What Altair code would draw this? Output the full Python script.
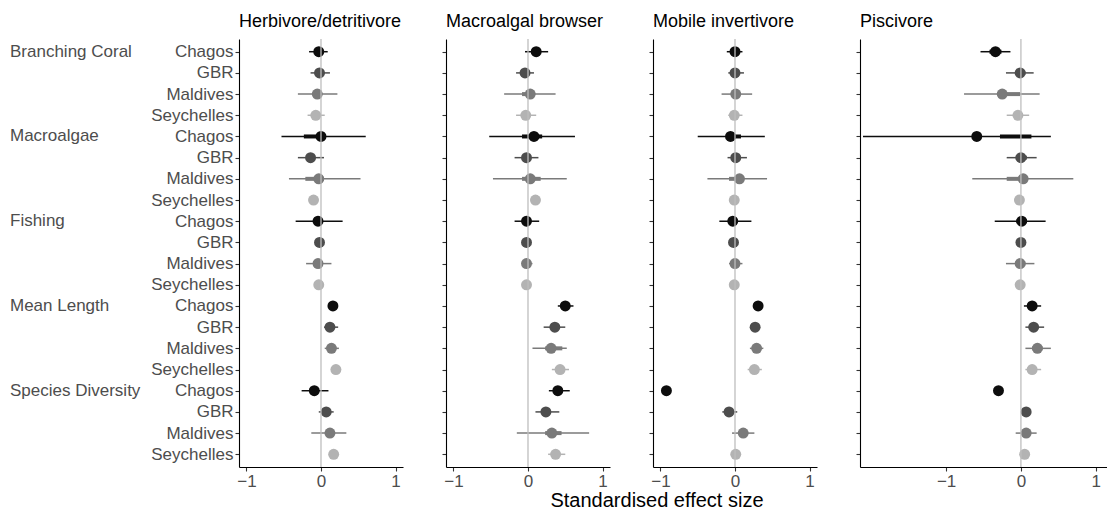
import altair as alt
import pandas as pd

FONT = "Liberation Sans"

guilds = ["Herbivore/detritivore", "Macroalgal browser", "Mobile invertivore", "Piscivore"]
groups = ["Branching Coral", "Macroalgae", "Fishing", "Mean Length", "Species Diversity"]
regions = ["Chagos", "GBR", "Maldives", "Seychelles"]
region_colors = ["#0D0D0D", "#4D4D4D", "#7A7A7A", "#B3B3B3"]
# groups whose first tick label is printed with a trailing space
spaced_groups = ["Macroalgae", "Fishing", "Mean Length"]

x_ticks = [-1, 0, 1]
ref_lines = [0]
axis_title_text = "Standardised effect size"

# Rows run group by group, regions in order Chagos, GBR, Maldives, Seychelles
herb_est = [-0.03, -0.02, -0.05, -0.07, 0.00, -0.14, -0.03, -0.10, -0.04, -0.02,
            -0.04, -0.03, 0.16, 0.12, 0.14, 0.20, -0.09, 0.07, 0.12, 0.17]
herb_lo95 = [-0.16, -0.14, -0.31, -0.18, -0.53, -0.31, -0.43, -0.13, -0.34, -0.05,
             -0.20, -0.06, 0.13, 0.04, 0.05, 0.17, -0.26, -0.03, -0.13, 0.14]
herb_hi95 = [0.09, 0.12, 0.22, 0.05, 0.60, 0.04, 0.53, -0.07, 0.29, 0.01,
             0.14, 0.00, 0.19, 0.23, 0.24, 0.23, 0.10, 0.17, 0.34, 0.20]
herb_lo_in = [-0.07, -0.06, -0.10, -0.10, -0.23, -0.19, -0.21, -0.12, -0.09, -0.04,
              -0.09, -0.05, 0.15, 0.08, 0.10, 0.19, -0.14, 0.03, 0.06, 0.16]
herb_hi_in = [0.01, 0.03, 0.01, -0.04, 0.04, -0.09, 0.04, -0.08, 0.02, 0.00,
              0.01, -0.01, 0.17, 0.16, 0.18, 0.21, -0.04, 0.11, 0.17, 0.19]

brow_est = [0.11, -0.04, 0.03, -0.03, 0.08, -0.02, 0.03, 0.10, -0.02, -0.02,
            -0.02, -0.02, 0.50, 0.36, 0.31, 0.43, 0.40, 0.24, 0.32, 0.37]
brow_lo95 = [-0.04, -0.16, -0.32, -0.16, -0.52, -0.18, -0.47, 0.08, -0.18, -0.04,
             -0.08, -0.04, 0.40, 0.21, 0.06, 0.32, 0.28, 0.10, -0.15, 0.27]
brow_hi95 = [0.27, 0.08, 0.37, 0.11, 0.63, 0.14, 0.52, 0.12, 0.15, 0.00,
             0.06, 0.00, 0.61, 0.50, 0.52, 0.55, 0.56, 0.42, 0.82, 0.50]
brow_lo_in = [0.05, -0.09, -0.08, -0.08, -0.08, -0.07, -0.08, 0.09, -0.07, -0.03,
              -0.05, -0.03, 0.45, 0.30, 0.23, 0.38, 0.34, 0.18, 0.23, 0.32]
brow_hi_in = [0.17, 0.01, 0.09, 0.02, 0.19, 0.03, 0.17, 0.11, 0.03, -0.01,
              0.01, -0.01, 0.55, 0.42, 0.46, 0.48, 0.46, 0.30, 0.45, 0.42]

inv_est = [0.00, 0.00, 0.01, -0.01, -0.06, 0.01, 0.06, -0.01, -0.03, -0.02,
           0.00, -0.01, 0.31, 0.27, 0.29, 0.26, -0.92, -0.08, 0.11, 0.01]
inv_lo95 = [-0.11, -0.09, -0.18, -0.09, -0.50, -0.10, -0.37, -0.03, -0.21, -0.04,
            -0.08, -0.03, 0.29, 0.25, 0.20, 0.17, -0.94, -0.17, -0.04, -0.03]
inv_hi95 = [0.10, 0.12, 0.23, 0.10, 0.40, 0.16, 0.43, 0.01, 0.22, 0.00,
            0.10, 0.01, 0.33, 0.29, 0.38, 0.36, -0.90, 0.03, 0.26, 0.05]
inv_lo_in = [-0.04, -0.04, -0.05, -0.04, -0.08, -0.04, -0.08, -0.02, -0.08, -0.03,
             -0.04, -0.02, 0.30, 0.26, 0.25, 0.22, -0.93, -0.12, 0.06, -0.01]
inv_hi_in = [0.04, 0.05, 0.07, 0.03, 0.08, 0.06, 0.05, 0.00, 0.03, -0.01,
             0.04, 0.00, 0.32, 0.28, 0.33, 0.31, -0.91, -0.04, 0.16, 0.03]

pisc_est = [-0.34, -0.01, -0.25, -0.04, -0.59, 0.00, 0.03, -0.02, 0.01, 0.00,
            -0.01, -0.01, 0.15, 0.17, 0.22, 0.15, -0.30, 0.07, 0.07, 0.05]
pisc_lo95 = [-0.54, -0.20, -0.76, -0.19, -2.11, -0.19, -0.65, -0.04, -0.35, -0.02,
             -0.20, -0.03, 0.04, 0.06, 0.06, 0.06, -0.32, 0.05, -0.07, 0.03]
pisc_hi95 = [-0.14, 0.17, 0.25, 0.11, 0.40, 0.21, 0.70, 0.00, 0.33, 0.02,
             0.18, 0.01, 0.27, 0.31, 0.40, 0.27, -0.28, 0.09, 0.21, 0.07]
pisc_lo_in = [-0.42, -0.08, -0.31, -0.09, -0.28, -0.07, -0.19, -0.03, -0.06, -0.01,
              -0.08, -0.02, 0.10, 0.12, 0.15, 0.11, -0.31, 0.06, 0.01, 0.04]
pisc_hi_in = [-0.26, 0.06, -0.01, 0.02, 0.14, 0.08, 0.09, -0.01, 0.08, 0.01,
              0.06, 0.00, 0.20, 0.23, 0.29, 0.20, -0.29, 0.08, 0.13, 0.06]

series = {
    "Herbivore/detritivore": (herb_est, herb_lo95, herb_hi95, herb_lo_in, herb_hi_in),
    "Macroalgal browser": (brow_est, brow_lo95, brow_hi95, brow_lo_in, brow_hi_in),
    "Mobile invertivore": (inv_est, inv_lo95, inv_hi95, inv_lo_in, inv_hi_in),
    "Piscivore": (pisc_est, pisc_lo95, pisc_hi95, pisc_lo_in, pisc_hi_in),
}
x_domains = {
    "Herbivore/detritivore": [-1.1, 1.1],
    "Macroalgal browser": [-1.1, 1.1],
    "Mobile invertivore": [-1.1, 1.1],
    "Piscivore": [-2.15, 1.15],
}
panel_widths = [164, 164, 164, 247]
PANEL_H = 428


def tick_label(group, region):
    if region == "Chagos" and group in spaced_groups:
        return region + "\u00a0"
    return region


key_order = [f"{g}|{tick_label(g, r)}" for g in groups for r in regions]

records = []
for guild in guilds:
    est, lo95, hi95, lo_in, hi_in = series[guild]
    for i in range(len(key_order)):
        grp = groups[i // 4]
        reg = regions[i % 4]
        records.append({
            "guild": guild, "group": grp, "region": reg, "key": key_order[i],
            "est": est[i], "lo95": lo95[i], "hi95": hi95[i],
            "lo_in": lo_in[i], "hi_in": hi_in[i],
        })
df = pd.DataFrame(records)


def panel(guild, width, first=False, with_axis_title=False):
    d = df[df["guild"] == guild]
    xs = alt.Scale(domain=x_domains[guild], nice=False, zero=False)
    x_axis = alt.Axis(values=x_ticks, title=None, grid=False)
    y_axis = alt.Axis(title=None, labels=first, grid=False,
                      labelExpr="split(datum.value, '|')[1]")
    y = alt.Y("key:N", scale=alt.Scale(type="point", domain=key_order, padding=0.6),
              axis=y_axis)
    col = alt.Color("region:N", scale=alt.Scale(domain=regions, range=region_colors),
                    legend=None)
    base = alt.Chart(d)

    thin = base.mark_rule(strokeWidth=1.5).encode(
        x=alt.X("lo95:Q", scale=xs, axis=x_axis), x2="hi95:Q", y=y, color=col)
    thick = base.mark_rule(strokeWidth=4).encode(
        x=alt.X("lo_in:Q", scale=xs, axis=x_axis), x2="hi_in:Q", y=y, color=col)
    dots = base.mark_circle(size=120, opacity=1).encode(
        x=alt.X("est:Q", scale=xs, axis=x_axis), y=y, color=col)
    zero = alt.Chart(pd.DataFrame({"ref": ref_lines})).mark_rule(
        color="#BEBEBE", strokeWidth=1.3).encode(
        x=alt.X("ref:Q", scale=xs, axis=x_axis))
    layers = [thin, thick, dots, zero]

    if first:
        group_text = base.transform_filter(alt.datum.region == "Chagos").mark_text(
            align="left", baseline="middle", fontSize=17, color="#4D4D4D", font=FONT
        ).encode(x=alt.value(-229), y=y, text="group:N")
        layers.append(group_text)

    if with_axis_title:
        xt = alt.Chart(pd.DataFrame({"label": [axis_title_text]})).mark_text(
            align="center", baseline="alphabetic", fontSize=20, color="#000000", font=FONT
        ).encode(x=alt.value(4), y=alt.value(PANEL_H + 40), text="label:N")
        layers.append(xt)

    return alt.layer(*layers).properties(
        width=width, height=PANEL_H,
        title=alt.TitleParams(guild, anchor="start", frame="group"),
    )


panels = [
    panel(guilds[0], panel_widths[0], first=True),
    panel(guilds[1], panel_widths[1]),
    panel(guilds[2], panel_widths[2], with_axis_title=True),
    panel(guilds[3], panel_widths[3]),
]

chart = alt.hconcat(*panels, spacing=43, bounds="flush").properties(
    padding={"left": 10, "top": 13, "right": 0, "bottom": 0}
).configure_view(stroke=None).configure_axis(
    labelFont=FONT, labelFontSize=17, labelColor="#4D4D4D",
    domainColor="#000000", domainWidth=1.1,
    tickColor="#333333", tickWidth=1.1, tickSize=4, labelPadding=2,
).configure_title(
    font=FONT, fontSize=18, fontWeight="normal", color="#000000",
    anchor="start", frame="group", offset=7, baseline="alphabetic", limit=400,
)

chart.save("out.html", embed_options={"renderer": "svg", "actions": False})
